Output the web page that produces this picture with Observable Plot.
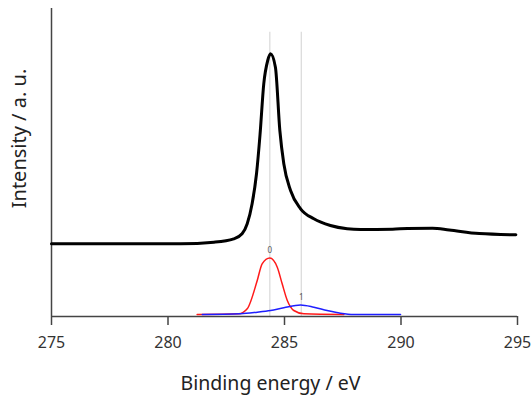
<!DOCTYPE html>
<html>
<head>
<meta charset="utf-8">
<script src="https://cdn.jsdelivr.net/npm/d3@7"></script>
<script src="https://cdn.jsdelivr.net/npm/@observablehq/plot@0.6"></script>
<style>
  html, body { margin: 0; padding: 0; background: #fff; }
  svg { display: block; }
</style>
</head>
<body>
<div id="chart"></div>
<script>
// ---- data ----
const xDomain = [275, 295];
const xTicks = [275, 280, 285, 290, 295];
const yDomain = [0, 308];

// measured spectrum (binding energy, intensity a.u.)
const specX = [275.0, 280.54, 281.97, 282.82, 283.18, 283.40, 283.61, 283.80, 283.95, 284.11, 284.28, 284.40, 284.61, 284.80, 284.97, 285.26, 285.69, 286.26, 286.97, 287.69, 288.26, 289.64, 290.28, 291.35, 292.07, 293.36, 294.93];
const specY = [72.7, 72.7, 74.3, 77.7, 82.7, 92.7, 112.7, 143, 182, 232.7, 256, 262.7, 249.3, 186, 152.7, 126, 107.7, 97.7, 91, 87.7, 86.9, 87.3, 88, 88.3, 86.5, 82.9, 81.7];

// fitted component 0 (red)
const comp0X = [281.25, 283.04, 283.40, 283.83, 284.04, 284.37, 284.69, 284.90, 285.12, 285.40, 285.83, 287.55];
const comp0Y = [2, 2.7, 7.7, 36, 52.7, 58.5, 49.3, 32.7, 16, 6, 2.7, 2];

// fitted component 1 (blue)
const comp1X = [281.47, 283.11, 283.83, 284.40, 284.97, 285.69, 286.26, 286.83, 287.40, 287.97, 289.98];
const comp1Y = [2, 2.7, 4.3, 6, 8.7, 11.5, 9.3, 6, 3.3, 2, 2];

// component labels, centers and peak heights
const compNames = ["0", "1"];
const compCenters = [284.37, 285.72];
const compPeaks = [58.5, 11.5];
const markerTop = 284.3;

const xLabel = "Binding energy / eV";
const yLabel = "Intensity / a. u.";

// ---- build tables ----
const spec = specX.map((x, i) => ({x, y: specY[i]}));
const c0 = comp0X.map((x, i) => ({x, y: comp0Y[i]}));
const c1 = comp1X.map((x, i) => ({x, y: comp1Y[i]}));
const comps = compNames.map((name, i) => ({name, x: compCenters[i], peak: compPeaks[i]}));

const axisColor = "#444";
const tickFont = 16;
const hasAxisMark = typeof Plot.axisX === "function";

const xScale = {domain: xDomain, label: null};
if (!hasAxisMark) Object.assign(xScale, {ticks: xTicks, tickSize: 9, tickPadding: 11, tickFormat: d => String(d)});

const marks = [
  Plot.ruleX(comps, {x: "x", y1: 0, y2: () => markerTop, stroke: "#d9d9d9", strokeWidth: 1.2}),
  Plot.ruleX([xDomain[0]], {stroke: axisColor, strokeWidth: 1.5}),
  Plot.ruleY([yDomain[0]], {stroke: axisColor, strokeWidth: 1.5}),
  Plot.line(spec, {x: "x", y: "y", stroke: "#000", strokeWidth: 3, curve: "monotone-x"}),
  Plot.line(c0, {x: "x", y: "y", stroke: "#ff1a1a", strokeWidth: 1.5, curve: "monotone-x"}),
  Plot.line(c1, {x: "x", y: "y", stroke: "#1f1fff", strokeWidth: 1.5, curve: "monotone-x"}),
  Plot.text(comps, {x: "x", y: "peak", text: "name", dy: -8, fontSize: 8, fill: "#555", lineAnchor: "middle"}),
  Plot.text([xLabel], {frameAnchor: "bottom", text: d => d, textAnchor: "middle", dx: -14, dy: 67, fontSize: 19.5, fill: "#222", lineAnchor: "middle"}),
  Plot.text([yLabel], {frameAnchor: "left", text: d => d, textAnchor: "middle", rotate: -90, dx: -32, dy: -24, fontSize: 20, fill: "#222", lineAnchor: "middle"})
];
if (hasAxisMark) {
  marks.push(Plot.axisX({ticks: xTicks, tickSize: 9, tickPadding: 11, tickFormat: d => String(d), fontSize: tickFont, stroke: axisColor, strokeWidth: 1.5, fill: "#333", label: null}));
}

const chart = Plot.plot({
  width: 532,
  height: 395,
  marginLeft: 51,
  marginRight: 15,
  marginTop: 8,
  marginBottom: 79,
  style: {fontFamily: "'Noto Sans', 'Open Sans', sans-serif", background: "#fff", color: "#333", fontSize: tickFont + "px"},
  x: xScale,
  y: {domain: yDomain, axis: null},
  marks
});

// make sure the tick labels use the reference's size
chart.querySelectorAll("g[aria-label^='x-axis']").forEach(g => {
  if (g.getAttribute("aria-label").includes("label") || !hasAxisMark) {
    g.setAttribute("font-size", tickFont);
    g.querySelectorAll("text").forEach(t => t.setAttribute("font-size", tickFont));
  }
});
document.getElementById("chart").appendChild(chart);
</script>
</body>
</html>
